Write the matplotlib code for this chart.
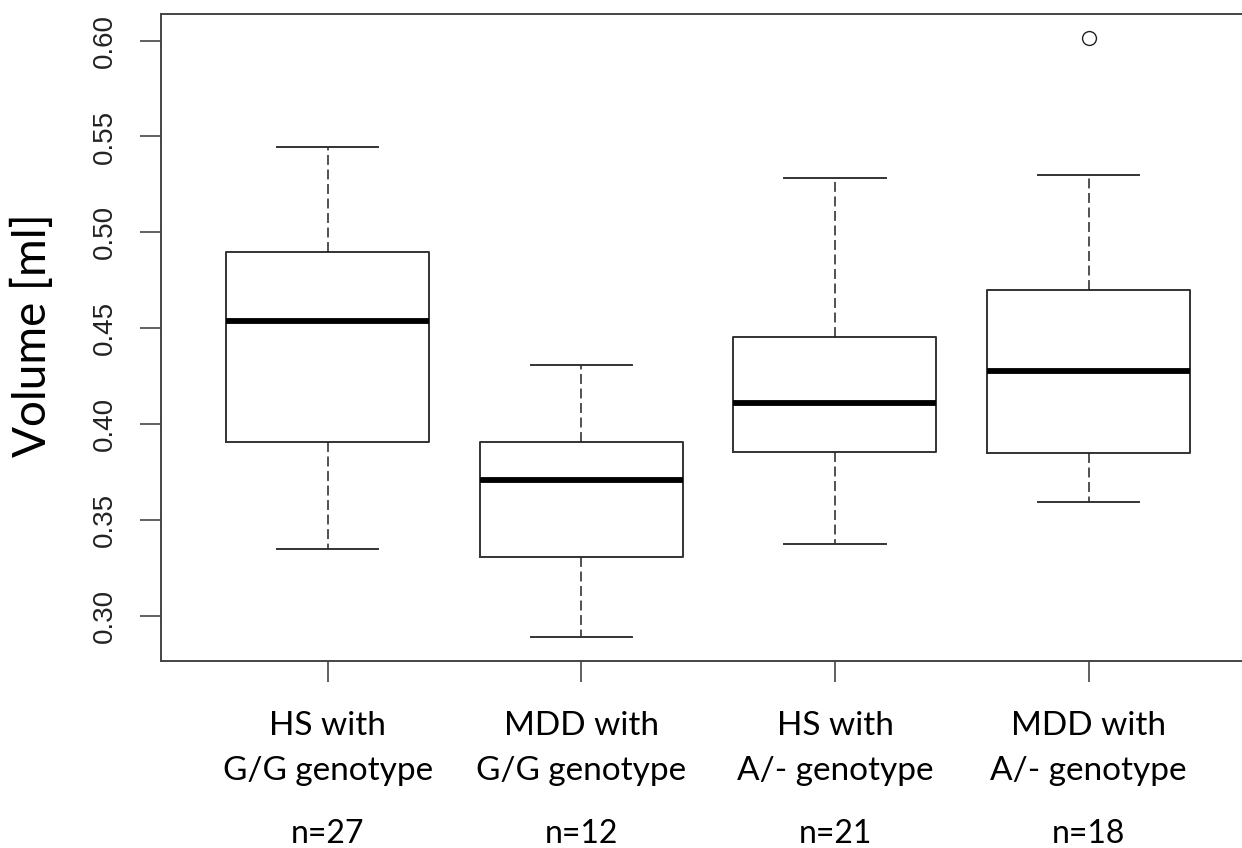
import matplotlib
matplotlib.use("Agg")
import matplotlib.pyplot as plt
import matplotlib.transforms as mtransforms

# ---- data ----
groups = ["HS with\nG/G genotype", "MDD with\nG/G genotype",
          "HS with\nA/- genotype", "MDD with\nA/- genotype"]
n_labels = ["n=27", "n=12", "n=21", "n=18"]
whisker_low = [0.3348, 0.2889, 0.3376, 0.3593]
q1 = [0.3905, 0.3306, 0.3856, 0.3849]
median = [0.4536, 0.3706, 0.4111, 0.4278]
q3 = [0.4899, 0.3905, 0.4454, 0.4699]
whisker_high = [0.5444, 0.4308, 0.5282, 0.5299]
outliers = [[], [], [], [0.6013]]
yticks = [0.30, 0.35, 0.40, 0.45, 0.50, 0.55, 0.60]
ylabel = "Volume [ml]"

W, H = 1242, 848
fig = plt.figure(figsize=(W / 100, H / 100), dpi=100)
ax = fig.add_axes([161 / W, (H - 661) / H, (1256 - 161) / W, (661 - 14) / H])

stats = []
for i in range(len(groups)):
    stats.append(dict(med=median[i], q1=q1[i], q3=q3[i],
                      whislo=whisker_low[i], whishi=whisker_high[i],
                      fliers=outliers[i], label=groups[i]))

positions = list(range(1, len(groups) + 1))
ax.bxp(stats, positions=positions, widths=0.8, showfliers=True,
       boxprops=dict(color="#333333", linewidth=1.4),
       medianprops=dict(color="black", linewidth=4.2, solid_capstyle="butt"),
       whiskerprops=dict(color="#222222", linewidth=1.1, linestyle=(0, (6.5, 3.0))),
       capprops=dict(color="#333333", linewidth=1.4),
       flierprops=dict(marker="o", markerfacecolor="none", markeredgecolor="#222222",
                       markersize=10, markeredgewidth=1.0))

ax.set_xlim(0.343, 4.66)
ax.set_ylim(0.2764, 0.6139)

for s in ax.spines.values():
    s.set_color("#444444")
    s.set_linewidth(1.4)

ax.set_yticks(yticks)
ax.set_yticklabels([f"{v:.2f}" for v in yticks], rotation=90, va="center",
                   fontsize=20, family="Liberation Sans", color="#222222")
ax.tick_params(axis="y", length=15, width=1.2, color="#444444", pad=16)

ax.set_xticks(positions)
ax.set_xticklabels(groups, fontsize=24, family="Lato", color="black", linespacing=1.62)
ax.tick_params(axis="x", length=15, width=1.2, color="#444444", pad=21)

trans = mtransforms.blended_transform_factory(ax.transData, fig.transFigure)
for p, t in zip(positions, n_labels):
    ax.text(p, (H - 834) / H, t, transform=trans, ha="center", va="center",
            fontsize=23, family="Lato", color="black")

fig.text(32 / W, (H - 335) / H, ylabel, rotation=90, ha="center", va="center",
         fontsize=33, family="Lato", color="black")

fig.savefig("out.png", dpi=100)
